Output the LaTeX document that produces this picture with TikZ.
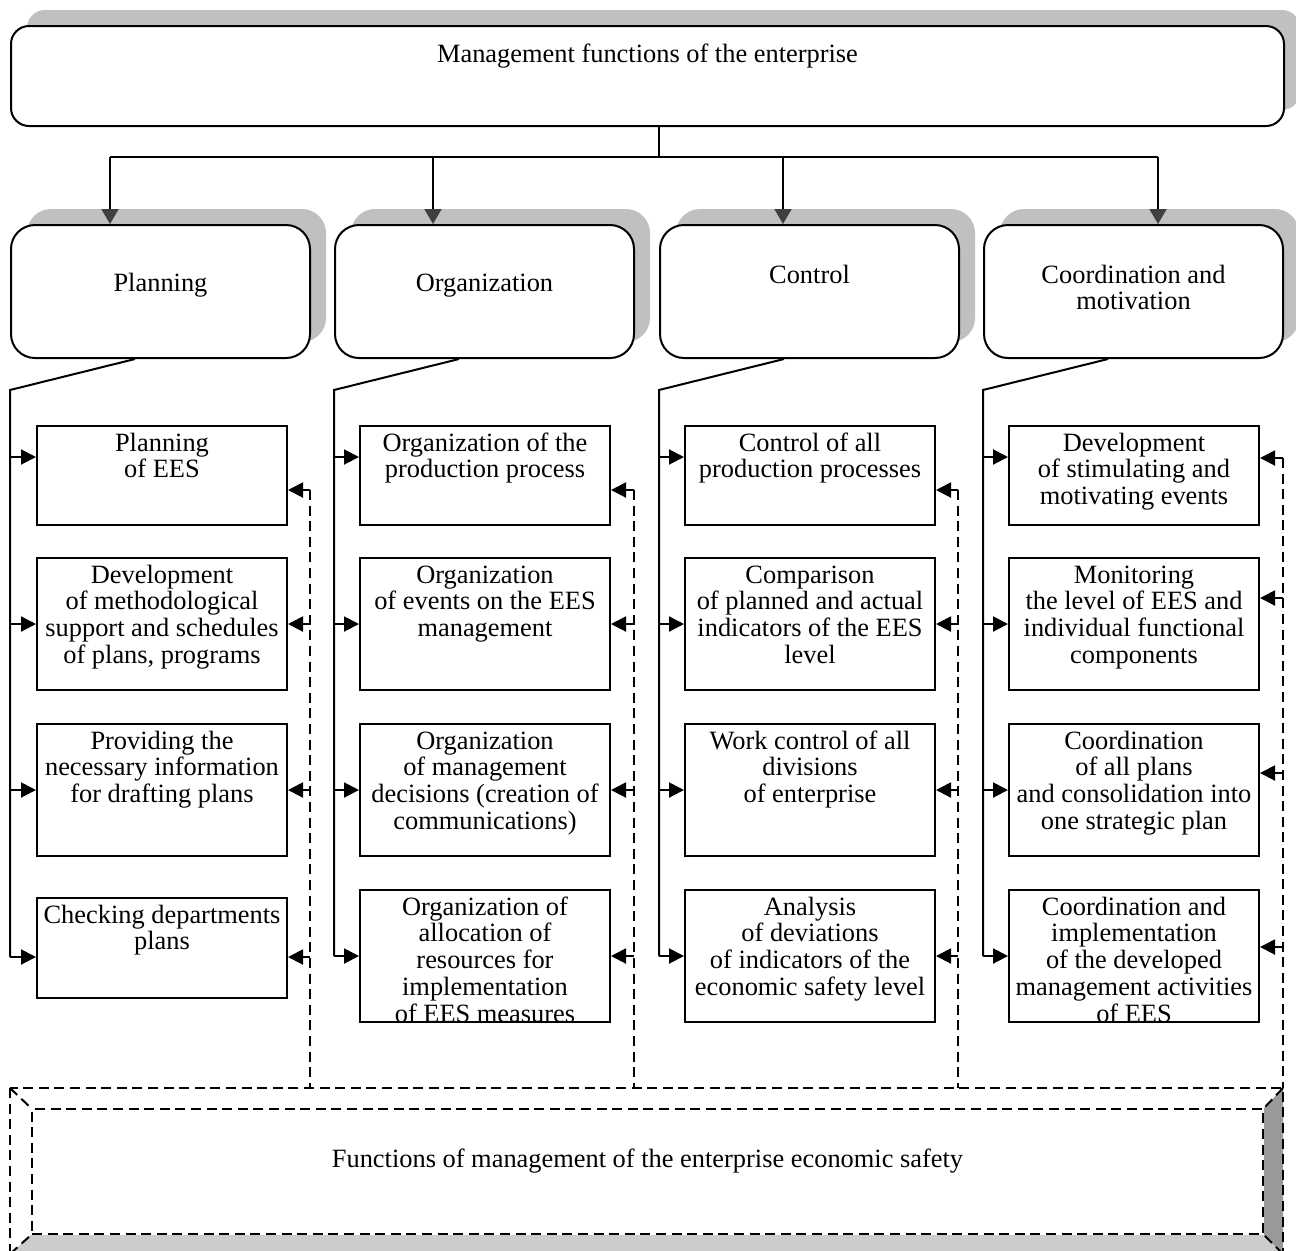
\documentclass[tikz,border=0pt]{standalone}
\usepackage{fontspec}
\setmainfont{Liberation Serif}
\usetikzlibrary{arrows.meta, shadows, backgrounds}
\tikzset{>={Triangle[length=7.5pt,width=7.5pt]}}
\definecolor{shadowgray}{HTML}{C0C0C0}
\definecolor{tipgray}{HTML}{404040}
\definecolor{bevellight}{HTML}{CCCCCC}
\definecolor{beveldark}{HTML}{999999}
\newcommand{\cellbox}[4]{\parbox[t][#2][t]{#1}{\centering\rule{0pt}{#3}#4}}

\begin{document}
\begin{tikzpicture}[x=0.5pt, y=-0.5pt, line width=1pt,
    font=\fontsize{13.2pt}{13.4pt}\selectfont,
    mainbox/.style={draw, fill=white, rounded corners=9pt, inner sep=0pt, anchor=north west,
      drop shadow={shadow xshift=8pt, shadow yshift=8pt, fill=shadowgray, opacity=1}},
    funcbox/.style={mainbox, rounded corners=12pt},
    taskbox/.style={draw, fill=white, inner sep=0pt, anchor=north west},
    dline/.style={dash pattern=on 5pt off 2.8pt},
    toparr/.style={-{Triangle[length=7.5pt,width=8.5pt,color=tipgray]}}]

    \useasboundingbox (0,0) rectangle (1296,1250);
    \clip (0,0) rectangle (1296,1250);

    \node[mainbox] (top) at (10,25) {\cellbox{636.5pt}{50pt}{18pt}{Management functions of the enterprise}};

    \node[funcbox] (pl) at (10,224)  {\cellbox{149.5pt}{66.5pt}{33pt}{Planning}};
    \node[funcbox] (or) at (334,224) {\cellbox{149.5pt}{66.5pt}{33pt}{Organization}};
    \node[funcbox] (co) at (659,224) {\cellbox{149.5pt}{66.5pt}{29pt}{Control}};
    \node[funcbox] (cm) at (983,224) {\cellbox{149.5pt}{66.5pt}{29pt}{Coordination and\\motivation}};

    \node[taskbox] (p1) at (36,425) {\cellbox{125pt}{49.5pt}{12.5pt}{Planning\\of EES}};
    \node[taskbox] (p2) at (36,557) {\cellbox{125pt}{66pt}{12.5pt}{Development\\of methodological\\support and schedules\\of plans, programs}};
    \node[taskbox] (p3) at (36,723) {\cellbox{125pt}{66pt}{12.5pt}{Providing the\\necessary information\\for drafting plans}};
    \node[taskbox] (p4) at (36,897) {\cellbox{125pt}{50pt}{12.5pt}{Checking departments\\plans}};

    \node[taskbox] (o1) at (359,425) {\cellbox{125pt}{49.5pt}{12.5pt}{Organization of the\\production process}};
    \node[taskbox] (o2) at (359,557) {\cellbox{125pt}{66pt}{12.5pt}{Organization\\of events on the EES\\management}};
    \node[taskbox] (o3) at (359,723) {\cellbox{125pt}{66pt}{12.5pt}{Organization\\of management\\decisions (creation of\\communications)}};
    \node[taskbox] (o4) at (359,889) {\cellbox{125pt}{66pt}{12.5pt}{Organization of\\allocation of\\resources for\\implementation\\of EES measures}};

    \node[taskbox] (c1) at (684,425) {\cellbox{125pt}{49.5pt}{12.5pt}{Control of all\\production processes}};
    \node[taskbox] (c2) at (684,557) {\cellbox{125pt}{66pt}{12.5pt}{Comparison\\of planned and actual\\indicators of the EES\\level}};
    \node[taskbox] (c3) at (684,723) {\cellbox{125pt}{66pt}{12.5pt}{Work control of all\\divisions\\of enterprise}};
    \node[taskbox] (c4) at (684,889) {\cellbox{125pt}{66pt}{12.5pt}{Analysis\\of deviations\\of indicators of the\\economic safety level}};

    \node[taskbox] (m1) at (1008,425) {\cellbox{125pt}{49.5pt}{12.5pt}{Development\\of stimulating and\\motivating events}};
    \node[taskbox] (m2) at (1008,557) {\cellbox{125pt}{66pt}{12.5pt}{Monitoring\\the level of EES and\\individual functional\\components}};
    \node[taskbox] (m3) at (1008,723) {\cellbox{125pt}{66pt}{12.5pt}{Coordination\\of all plans\\and consolidation into\\one strategic plan}};
    \node[taskbox] (m4) at (1008,889) {\cellbox{125pt}{66pt}{12.5pt}{Coordination and\\implementation\\of the developed\\management activities\\of EES}};

    \node[draw, dline, fill=white, inner sep=0pt, anchor=north west] (ees) at (31,1108) {\cellbox{615.5pt}{62.5pt}{29pt}{Functions of management of the enterprise economic safety}};

    \coordinate (hub) at (659,157);
    \coordinate (t1) at (110,157);
    \coordinate (t2) at (433,157);
    \coordinate (t3) at (783,157);
    \coordinate (t4) at (1158,157);
    \draw (top.south -| hub) -- (hub);
    \draw (t1) -- (t4);
    \draw[toparr] (t1) -- (t1 |- pl.north);
    \draw[toparr] (t2) -- (t2 |- or.north);
    \draw[toparr] (t3) -- (t3 |- co.north);
    \draw[toparr] (t4) -- (t4 |- cm.north);

    \coordinate (sp1) at (10,390);
    \coordinate (sp2) at (334,390);
    \coordinate (sp3) at (659,390);
    \coordinate (sp4) at (983,390);
    \draw (pl.south west) ++(125,0) -- (sp1) -- (sp1 |- 0,957);
    \draw (or.south west) ++(125,0) -- (sp2) -- (sp2 |- o4.west);
    \draw (co.south west) ++(125,0) -- (sp3) -- (sp3 |- c4.west);
    \draw (cm.south west) ++(125,0) -- (sp4) -- (sp4 |- m4.west);

    \draw[->] (sp1 |- 0,457) -- (p1.west |- 0,457);
    \draw[->] (sp1 |- p2.west) -- (p2.west);
    \draw[->] (sp1 |- p3.west) -- (p3.west);
    \draw[->] (sp1 |- 0,957) -- (p4.west |- 0,957);
    \draw[->] (sp2 |- 0,457) -- (o1.west |- 0,457);
    \draw[->] (sp2 |- o2.west) -- (o2.west);
    \draw[->] (sp2 |- o3.west) -- (o3.west);
    \draw[->] (sp2 |- o4.west) -- (o4.west);
    \draw[->] (sp3 |- 0,457) -- (c1.west |- 0,457);
    \draw[->] (sp3 |- c2.west) -- (c2.west);
    \draw[->] (sp3 |- c3.west) -- (c3.west);
    \draw[->] (sp3 |- c4.west) -- (c4.west);
    \draw[->] (sp4 |- 0,457) -- (m1.west |- 0,457);
    \draw[->] (sp4 |- m2.west) -- (m2.west);
    \draw[->] (sp4 |- m3.west) -- (m3.west);
    \draw[->] (sp4 |- m4.west) -- (m4.west);

    \coordinate (dl1) at (310,490);
    \coordinate (dl2) at (634,490);
    \coordinate (dl3) at (958,490);
    \coordinate (dl4) at (1283,458);
    \coordinate (obnw) at (10,1088);
    \coordinate (obse) at (1283,1254);
    \draw[dline] (dl1) -- (dl1 |- obnw);
    \draw[dline] (dl2) -- (dl2 |- obnw);
    \draw[dline] (dl3) -- (dl3 |- obnw);
    \draw[dline] (dl4) -- (dl4 |- obnw);

    \draw[->] (dl1) -- (p1.east |- dl1);
    \draw[->] (dl1 |- p2.east) -- (p2.east);
    \draw[->] (dl1 |- p3.east) -- (p3.east);
    \draw[->] (dl1 |- 0,957) -- (p4.east |- 0,957);
    \draw[->] (dl2) -- (o1.east |- dl2);
    \draw[->] (dl2 |- o2.east) -- (o2.east);
    \draw[->] (dl2 |- o3.east) -- (o3.east);
    \draw[->] (dl2 |- o4.east) -- (o4.east);
    \draw[->] (dl3) -- (c1.east |- dl3);
    \draw[->] (dl3 |- c2.east) -- (c2.east);
    \draw[->] (dl3 |- c3.east) -- (c3.east);
    \draw[->] (dl3 |- c4.east) -- (c4.east);
    \draw[->] (dl4) -- (m1.east |- dl4);
    \draw[->] (dl4 |- 0,598) -- (m2.east |- 0,598);
    \draw[->] (dl4 |- 0,773) -- (m3.east |- 0,773);
    \draw[->] (dl4 |- 0,947) -- (m4.east |- 0,947);

    \begin{scope}[on background layer]
    \fill[bevellight] (ees.south west) -- (ees.south east) -- (obse) -- (obnw |- obse) -- cycle;
    \fill[beveldark] (ees.north east) -- (obse |- obnw) -- (obse) -- (ees.south east) -- cycle;
    \end{scope}
    \draw[dline] (obnw) rectangle (obse);
    \draw[dline] (obnw) -- (ees.north west);
    \draw[dline] (obse |- obnw) -- (ees.north east);
    \draw[dline] (obnw |- obse) -- (ees.south west);
    \draw[dline] (obse) -- (ees.south east);
\end{tikzpicture}
\end{document}
